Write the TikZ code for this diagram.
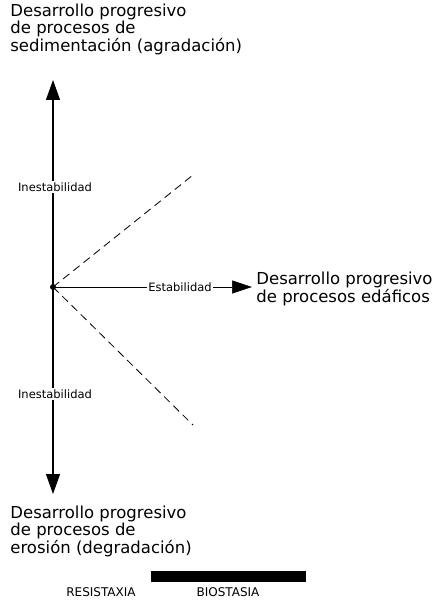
\documentclass[tikz,border=0pt]{standalone}
\usepackage{fontspec}
\setmainfont{DejaVu Sans}
\usepackage{tikz}
\usetikzlibrary{
	arrows.meta,
	positioning,
}

\begin{document}
\begin{tikzpicture}[x=1pt, y=-1pt, thick,
	label/.style={font=\fontsize{16.5}{15.5}\selectfont, align=left, inner sep=0pt},
	small/.style={font=\fontsize{11.5}{12}\selectfont, fill=white, inner sep=1.5pt},
	caps/.style={font=\fontsize{12}{12}\selectfont, inner sep=0pt},
	axis/.style={line width=1.2pt, -{Triangle[length=20pt,width=14pt]}},
	ray/.style={line width=0.8pt, dash pattern=on 8pt off 5pt},
]
\useasboundingbox (0,0) rectangle (446,601);

% origin
\coordinate (O) at (53,287);
\coordinate (up) at (53,80);
\coordinate (down) at (53,494);
\coordinate (right) at (252,287);
\coordinate (rayup) at (193,175);
\coordinate (raydown) at (193,425);

% dashed rays
\draw[ray] (O) -- (rayup);
\draw[ray] (O) -- (raydown);

% axes
\draw[axis] (O) -- (up);
\draw[axis] (O) -- (down);
\draw[line width=0.6pt, -{Triangle[length=20pt,width=13pt]}] (O) -- (right);
\fill (O) circle (3pt);

% axis labels
\node[small] (inesup) at (55,187) {Inestabilidad};
\node[small] (inesdown) at (55,394) {Inestabilidad};
\node[small] (estab) at (180,287) {Estabilidad};

% end texts
\node[label, anchor=north west] (sedim) at (10,4)
	{Desarrollo progresivo\\de procesos de\\sedimentación (agradación)};
\node[label, anchor=west] (edaf) at (256,289)
	{Desarrollo progresivo\\de procesos edáficos};
\node[label, anchor=north west] (eros) at (10,506)
	{Desarrollo progresivo\\de procesos de\\erosión (degradación)};

% bottom bar
\fill (151,571) rectangle (306,582);
\node[caps] (resist) at (101,592) {RESISTAXIA};
\node[caps] (biost) at (228,592) {BIOSTASIA};
\end{tikzpicture}
\end{document}
